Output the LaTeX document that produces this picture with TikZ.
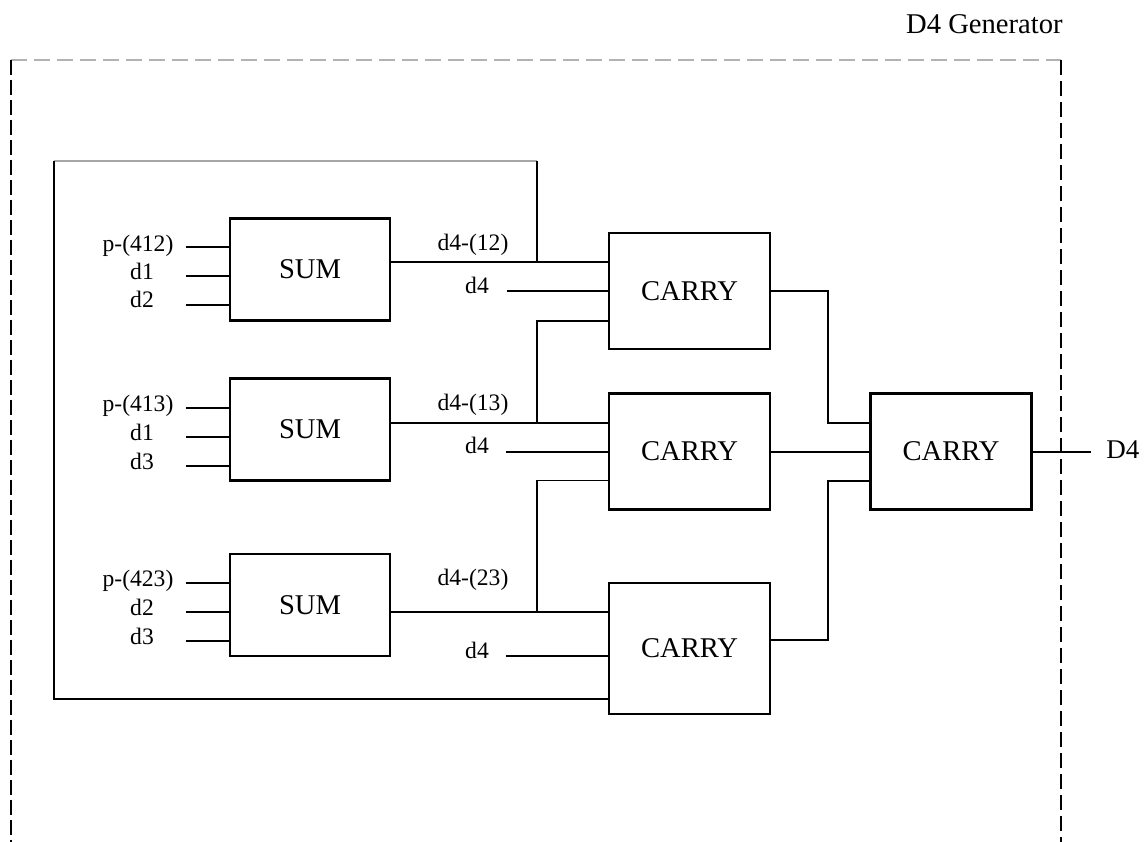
\documentclass[tikz,border=0pt]{standalone}
\usepackage{fontspec}
\setmainfont{Liberation Serif}
\usetikzlibrary{calc}

\tikzset{
  sumbox/.style={draw, line width=1.2pt, minimum width=80pt, minimum height=51pt, inner sep=0pt, font=\fontsize{14.3}{16}\selectfont},
  carrybox/.style={draw, line width=1.2pt, minimum width=80.5pt, minimum height=58pt, inner sep=0pt, font=\fontsize{14.3}{16}\selectfont},
  lbl/.style={anchor=base, inner sep=0pt, font=\fontsize{11.8}{13}\selectfont},
  wire/.style={line width=1pt},
  thinwire/.style={line width=0.7pt},
}

\begin{document}
\begin{tikzpicture}[x=0.5pt,y=-0.5pt]
                      \useasboundingbox (0,0) rectangle (1145,841);
                      % outer frame
                      \node[anchor=base east, inner sep=0pt, font=\fontsize{14.3}{16}\selectfont] (Title) at (1063,33) {D4 Generator};
                      \coordinate (F1) at (11,60);
                      \coordinate (F2) at (1061,60);
                      \draw[gray!60, line width=0.6pt, dash pattern=on 8pt off 3.5pt] (F1) -- (F2);
                      \draw[line width=1.2pt, dash pattern=on 7.5pt off 2.5pt] (F1) -- (11,845);
                      \draw[line width=0.7pt, dash pattern=on 7.5pt off 3pt] (F2) -- (1061,845);
                      % blocks
                      \node[sumbox] (S1) at (310,269.5) {SUM};
                      \node[sumbox] (S2) at (310,429.3) {SUM};
                      \node[sumbox] (S3) at (310,605) {SUM};
                      \node[carrybox] (C1) at (689.5,291) {CARRY};
                      \node[carrybox] (C2) at (689.5,451.5) {CARRY};
                      \node[carrybox, minimum height=65.5pt] (C3) at (689.5,648.5) {CARRY};
                      \node[carrybox] (C4) at (951,451.5) {CARRY};
                      % input labels
                      \node[lbl] (P1) at (138,251) {p-(412)};
                      \node[lbl] (P1a) at (142,279) {d1};
                      \node[lbl] (P1b) at (142,307.5) {d2};
                      \node[lbl] (P2) at (138,411.5) {p-(413)};
                      \node[lbl] (P2a) at (142,440) {d1};
                      \node[lbl] (P2b) at (142,469.5) {d3};
                      \node[lbl] (P3) at (138,586) {p-(423)};
                      \node[lbl] (P3a) at (142,615) {d2};
                      \node[lbl] (P3b) at (142,644) {d3};
                      \node[lbl] (O1) at (473,250) {d4-(12)};
                      \node[lbl] (O2) at (473,410) {d4-(13)};
                      \node[lbl] (O3) at (473,585) {d4-(23)};
                      \node[lbl] (E1) at (477,293) {d4};
                      \node[lbl] (E2) at (477,453) {d4};
                      \node[lbl] (E3) at (477,658) {d4};
                      \node[anchor=base west, inner sep=0pt, font=\fontsize{13.5}{16}\selectfont] (Out) at (1106,458) {D4};
                      % wire ends
                      \coordinate (A11) at (186,247.3);
                      \coordinate (A12) at (186,276);
                      \coordinate (A13) at (186,305);
                      \coordinate (A21) at (186,407.7);
                      \coordinate (A22) at (186,436.7);
                      \coordinate (A23) at (186,466);
                      \coordinate (A31) at (186,582.7);
                      \coordinate (A32) at (186,612);
                      \coordinate (A33) at (186,641.3);
                      \coordinate (D1) at (507,291);
                      \coordinate (D2) at (506,451.6);
                      \coordinate (D3) at (506,656);
                      \coordinate (T0) at (54,161);
                      \coordinate (T1) at (537,161);
                      \coordinate (B0) at (54,699);
                      \coordinate (J1) at (537,262.3);
                      \coordinate (J2) at (537,320.7);
                      \coordinate (J3) at (537,423);
                      \coordinate (J4) at (537,480.7);
                      \coordinate (J5) at (537,612);
                      \coordinate (K1) at (827.5,423);
                      \coordinate (K2) at (827.5,480.7);
                      \coordinate (K3) at (827.5,640.4);
                      \coordinate (Q) at (1091,451.5);
                      % wires
                      \draw[wire] (A11) -- (A11 -| S1.west) (A13) -- (A13 -| S1.west);
                      \draw[thinwire] (A12) -- (A12 -| S1.west);
                      \draw[wire] (A21) -- (A21 -| S2.west) (A22) -- (A22 -| S2.west) (A23) -- (A23 -| S2.west);
                      \draw[wire] (A31) -- (A31 -| S3.west) (A33) -- (A33 -| S3.west);
                      \draw[thinwire] (A32) -- (A32 -| S3.west);
                      \draw[wire] (D1) -- (D1 -| C1.west) (D2) -- (D2 -| C2.west) (D3) -- (D3 -| C3.west);
                      \draw[gray!70, line width=0.6pt] (T0) -- (T1);
                      \draw[wire] (T1) -- (J1);
                      \draw[wire] (T0) -- (B0) -- (B0 -| C3.west);
                      \draw[wire] (S1.east |- J1) -- (J1 -| C1.west);
                      \draw[wire] (J2 -| C1.west) -- (J2) -- (J3);
                      \draw[thinwire] (S2.east |- J3) -- (J3 -| C2.west);
                      \draw[thinwire] (J4 -| C2.west) -- (J4) -- (J5);
                      \draw[thinwire] (S3.east |- J5) -- (J5 -| C3.west);
                      \draw[wire] (C1.east) -| (K1) -- (K1 -| C4.west);
                      \draw[wire] (C2.east) -- (C4.west);
                      \draw[wire] (K3 -| C3.east) -- (K3) -- (K2) -- (K2 -| C4.west);
                      \draw[wire] (C4.east) -- (Q);
                    \end{tikzpicture}
\end{document}
